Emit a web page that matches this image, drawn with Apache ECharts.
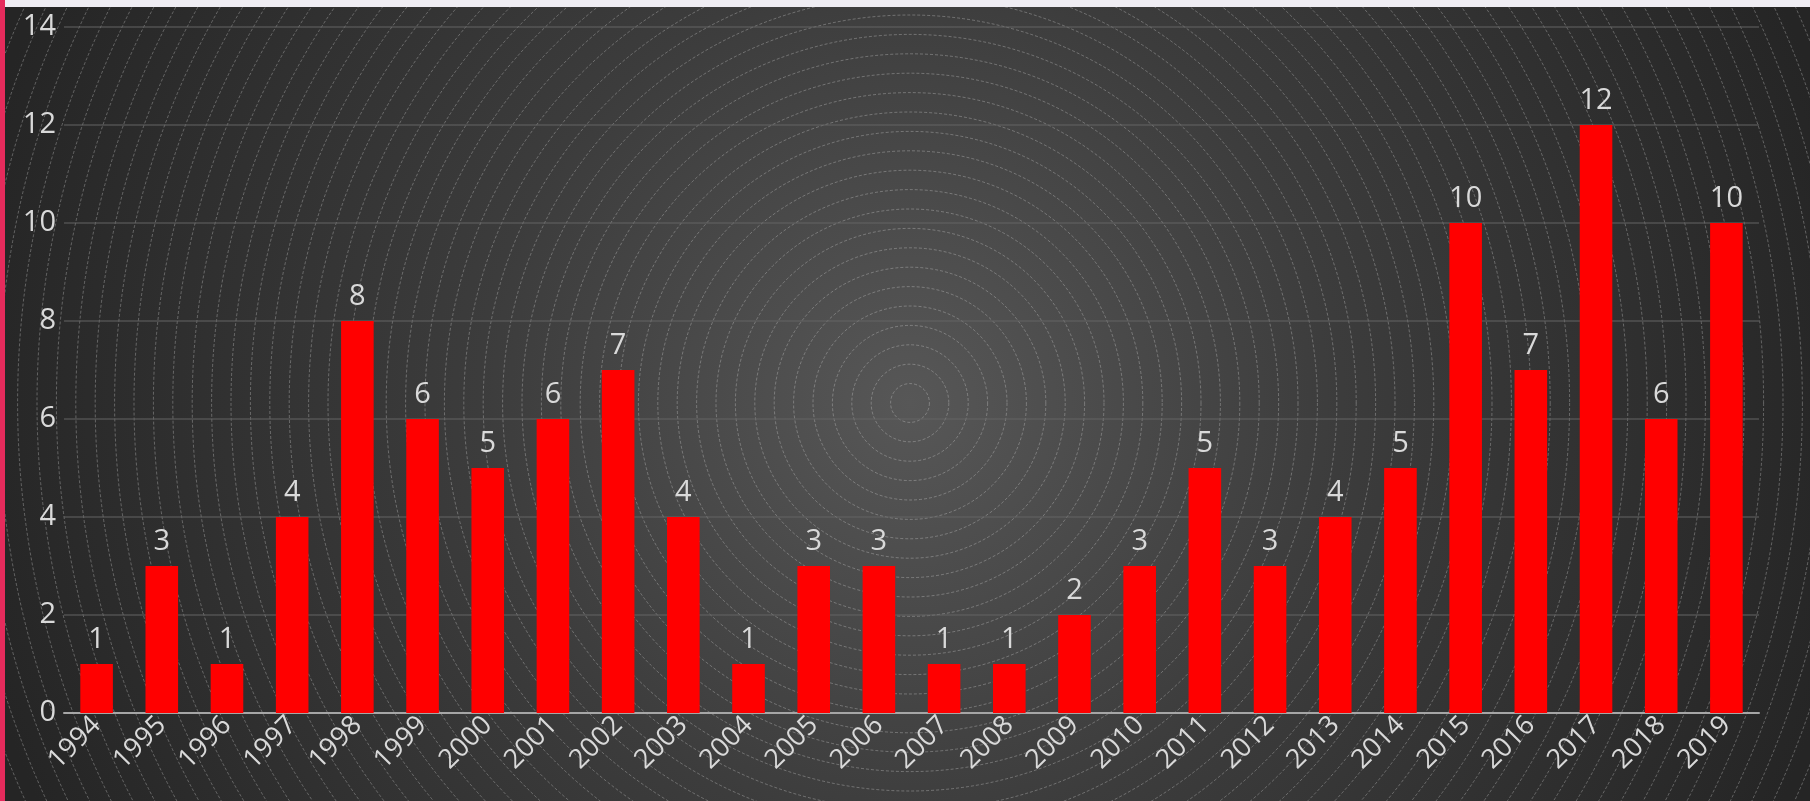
<!DOCTYPE html>
<html>
<head>
<meta charset="utf-8">
<script src="https://cdn.jsdelivr.net/npm/echarts@6/dist/echarts.min.js"></script>
<style>
  html, body { margin: 0; padding: 0; background: #2a2a2a; }
  #chart { width: 1810px; height: 801px; }
</style>
</head>
<body>
<div id="chart"></div>
<script>
// Yearly counts, 1994–2019
const years = ['1994','1995','1996','1997','1998','1999','2000','2001','2002','2003','2004','2005','2006',
               '2007','2008','2009','2010','2011','2012','2013','2014','2015','2016','2017','2018','2019'];
const counts = [1, 3, 1, 4, 8, 6, 5, 6, 7, 4, 1, 3, 3, 1, 1, 2, 3, 5, 3, 4, 5, 10, 7, 12, 6, 10];
const yTicks = [0, 2, 4, 6, 8, 10, 12, 14];

const W = 1810, H = 801;
const cx = 910, cy = 403;

// Concentric dashed rings behind the plot
const rings = [];
const ringStep = 19.4;
const maxR = Math.hypot(Math.max(cx, W - cx), Math.max(cy, H - cy));
for (let r = ringStep; r < maxR + ringStep; r += ringStep) {
  rings.push({
    type: 'circle',
    silent: true,
    z: -5,
    shape: { cx: cx, cy: cy, r: r },
    style: { fill: 'none', stroke: 'rgba(205,205,205,0.36)', lineWidth: 1, lineDash: [3, 2] }
  });
}

const chart = echarts.init(document.getElementById('chart'), null, { renderer: 'canvas' });
chart.setOption({
  animation: false,
  backgroundColor: {
    type: 'radial', x: cx, y: cy, r: 960, global: true,
    colorStops: [
      { offset: 0, color: '#575757' },
      { offset: 0.45, color: '#3c3c3c' },
      { offset: 1, color: '#252525' }
    ]
  },
  graphic: rings.concat([
    { type: 'rect', silent: true, z: 10, shape: { x: 0, y: 0, width: W, height: 7 }, style: { fill: '#efedf3' } },
    { type: 'rect', silent: true, z: 10, shape: { x: 0, y: 0, width: 5, height: H }, style: { fill: '#e52b5c' } }
  ]),
  grid: { left: 64, right: 51, top: 27, bottom: 88, containLabel: false },
  xAxis: {
    type: 'category',
    data: years,
    axisTick: { show: false },
    axisLine: { lineStyle: { color: '#a6a6a6', width: 2 } },
    axisLabel: {
      rotate: 45, interval: 0, margin: 8,
      color: '#d9d9d9', fontSize: 27, fontFamily: 'Open Sans'
    }
  },
  yAxis: {
    type: 'value',
    min: yTicks[0], max: yTicks[yTicks.length - 1], interval: 2,
    axisLine: { show: false },
    axisTick: { show: false },
    axisLabel: { color: '#d9d9d9', fontSize: 29, fontFamily: 'Open Sans', margin: 8 },
    splitLine: { lineStyle: { color: 'rgba(100,100,100,0.5)', width: 2 } }
  },
  series: [{
    type: 'bar',
    data: counts,
    barWidth: '50%',
    itemStyle: { color: '#ff0000' },
    label: {
      show: true, position: 'top', distance: 10,
      color: '#d9d9d9', fontSize: 29, fontFamily: 'Open Sans'
    }
  }]
});
</script>
</body>
</html>
